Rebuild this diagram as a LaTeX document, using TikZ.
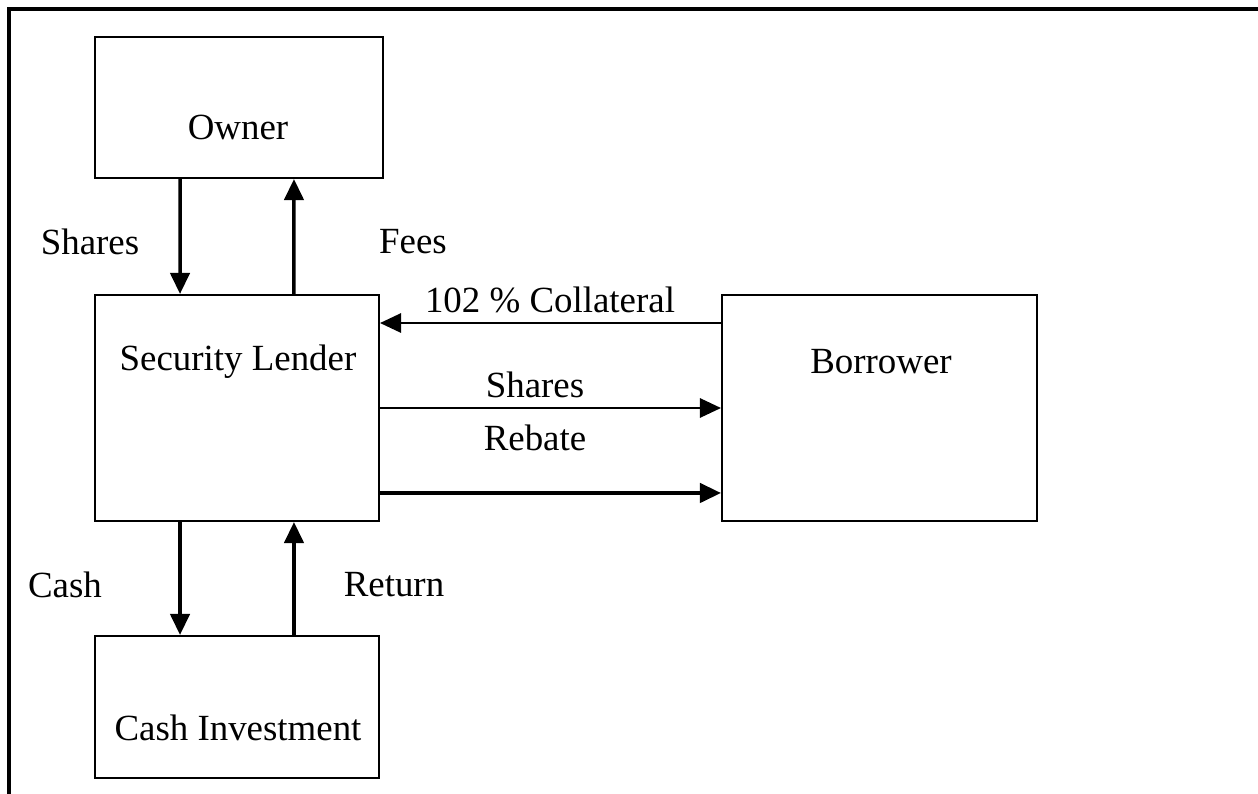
\documentclass[tikz,border=0pt]{standalone}
\usepackage{fontspec}
\setmainfont{Liberation Serif}
\usetikzlibrary{arrows.meta}

\begin{document}
\begin{tikzpicture}[x=0.02cm,y=-0.02cm]
        \useasboundingbox (0,0) rectangle (1258,794);
        % frame
        \draw[line width=1.8pt] (9,794) -- (9,9) -- (1258,9);
        \begin{scope}[every node/.style={draw,line width=1.2pt,font=\fontsize{21}{25}\selectfont}]
            \node[minimum width=5.76cm,minimum height=2.82cm] (owner) at (239,107.5) {};
            \node[minimum width=5.68cm,minimum height=4.52cm] (lender) at (237,408) {};
            \node[minimum width=6.30cm,minimum height=4.52cm] (borrower) at (879.5,408) {};
            \node[minimum width=5.68cm,minimum height=2.84cm] (cash) at (237,707) {};
        \end{scope}
        \begin{scope}[every node/.style={font=\fontsize{21}{25}\selectfont}]
            \node (ownertext) at (238,127) {Owner};
            \node (lendertext) at (238,362) {Security Lender};
            \node (borrowertext) at (881,362) {Borrower};
            \node (cashtext) at (238,728) {Cash Investment};

            \node (sharesup) at (90,242) {Shares};
            \node (fees) at (413,242) {Fees};
            \node (collateral) at (550,300) {102 \% Collateral};
            \node (sharesmid) at (535,385) {Shares};
            \node (rebate) at (535,438) {Rebate};
            \node (cashlabel) at (65,585) {Cash};
            \node (return) at (394,585) {Return};
        \end{scope}
        \begin{scope}[every edge/.style={draw,line width=2pt,-{Triangle[length=12pt,width=11pt]}}]
            \path ([xshift=-1.18cm]owner.south) edge ([xshift=-1.14cm]lender.north);
            \path ([xshift=1.14cm]lender.north) edge ([xshift=1.10cm]owner.south);
            \path ([xshift=-1.14cm]lender.south) edge ([xshift=-1.14cm]cash.north);
            \path ([xshift=1.14cm]cash.north) edge ([xshift=1.14cm]lender.south);
            \path ([yshift=1.70cm]borrower.west) edge[line width=1.2pt] ([yshift=1.70cm]lender.east);
            \path (lender.east) edge[line width=1.2pt] (borrower.west);
            \path ([yshift=-1.70cm]lender.east) edge ([yshift=-1.70cm]borrower.west);
        \end{scope}
    \end{tikzpicture}
\end{document}
